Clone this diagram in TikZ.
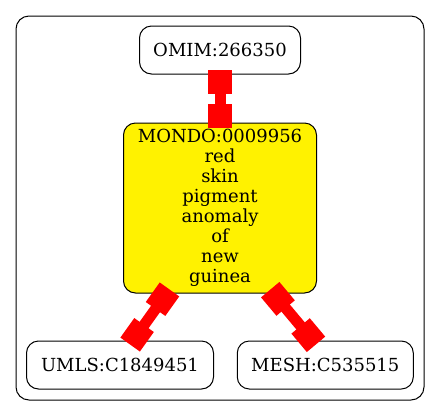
\documentclass[tikz,border=0pt]{standalone}
\usepackage{fontspec}
\setmainfont{DejaVu Serif}
\usetikzlibrary{arrows.meta}
\begin{document}
\begin{tikzpicture}[x=1pt,y=-1pt,
  box/.style={draw=black, line width=1pt, rounded corners=12pt, inner sep=0pt, align=center,
    font=\fontsize{18}{20}\selectfont},
  edge/.style={draw=red, line width=11pt,
    {Square[length=24pt,width=24pt]}-{Square[length=24pt,width=24pt]},
    shorten <=-5pt, shorten >=-5pt}]
\useasboundingbox (0,0) rectangle (440,416);
\draw[line width=1pt, rounded corners=13pt] (16,16) rectangle (424,400);
\node[box, minimum width=161pt, minimum height=48pt] (omim) at (220,50) {OMIM:266350};
\node[box, fill=yellow, minimum width=193pt, minimum height=170pt] (mondo) at (220,208)
  {\baselineskip=20pt MONDO:0009956\\red\\skin\\pigment\\anomaly\\of\\new\\guinea};
\node[box, minimum width=187pt, minimum height=48pt] (umls) at (120,365) {UMLS:C1849451};
\node[box, minimum width=176pt, minimum height=48pt] (mesh) at (325.3,365) {MESH:C535515};
\draw[edge] (omim.south) -- (mondo.north);
\draw[edge] (mondo.238) -- (umls.62);
\draw[edge] (mondo.302) -- (mesh.117);
\end{tikzpicture}
\end{document}
